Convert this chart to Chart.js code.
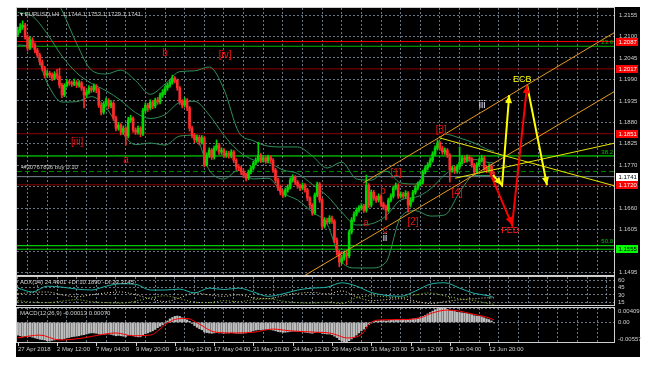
<!DOCTYPE html>
<html><head><meta charset="utf-8">
<script src="https://cdn.jsdelivr.net/npm/chart.js@4.4.1/dist/chart.umd.min.js"></script>
<style>
html,body{margin:0;padding:0;background:#fff;width:651px;height:368px;overflow:hidden}
#win{position:absolute;left:16px;top:7px;width:624px;height:350px;background:#000}
canvas{position:absolute;left:0;top:0}
</style></head><body>
<div id="win"></div>
<canvas id="price" width="651" height="368"></canvas>
<canvas id="adx" width="651" height="368"></canvas>
<canvas id="macd" width="651" height="368"></canvas>
<script>
// ===================== DATA =====================
const SYMBOL_TITLE = "\u25BE EURUSD,H4  1.1744 1.1753 1.1729 1.1741";
const DATE_LABELS = ['27 Apr 2018','2 May 12:00','7 May 04:00','9 May 20:00','14 May 12:00','17 May 04:00','21 May 20:00','24 May 12:00','29 May 04:00','31 May 20:00','5 Jun 12:00','8 Jun 04:00','12 Jun 20:00'];
const DATE_BAR = [0,16,32,48,64,80,96,112,128,144,160,176,192];
const PRICE_TICKS = [1.2155,1.2100,1.2045,1.1990,1.1935,1.1880,1.1825,1.1770,1.1715,1.1660,1.1605,1.1550,1.1495];

const OPEN = [
1.2105,1.2116,1.2124,1.2129,1.2098,1.2070,1.2091,1.2078,1.2065,1.2052,
1.2034,1.2019,1.2001,1.2006,1.2001,1.1993,1.2004,1.1998,1.1975,1.1950,
1.1975,1.1983,1.1981,1.1978,1.1983,1.1975,1.1981,1.1968,1.1950,1.1957,
1.1968,1.1963,1.1973,1.1963,1.1924,1.1906,1.1927,1.1937,1.1922,1.1929,
1.1891,1.1865,1.1873,1.1855,1.1865,1.1845,1.1886,1.1891,1.1860,1.1855,
1.1865,1.1850,1.1911,1.1924,1.1917,1.1932,1.1922,1.1937,1.1932,1.1950,
1.1957,1.1968,1.1975,1.1983,1.1993,1.1988,1.1968,1.1932,1.1924,1.1937,
1.1917,1.1865,1.1847,1.1835,1.1842,1.1829,1.1840,1.1771,1.1796,1.1809,
1.1791,1.1814,1.1822,1.1804,1.1809,1.1796,1.1801,1.1794,1.1804,1.1783,
1.1766,1.1763,1.1753,1.1745,1.1737,1.1753,1.1763,1.1776,1.1783,1.1796,
1.1783,1.1789,1.1781,1.1791,1.1783,1.1758,1.1732,1.1712,1.1701,1.1694,
1.1707,1.1714,1.1732,1.1740,1.1727,1.1717,1.1712,1.1719,1.1707,1.1686,
1.1668,1.1648,1.1694,1.1722,1.1681,1.1614,1.1630,1.1625,1.1635,1.1627,
1.1579,1.1548,1.1522,1.1533,1.1545,1.1538,1.1599,1.1630,1.1645,1.1655,
1.1661,1.1666,1.1655,1.1719,1.1668,1.1701,1.1686,1.1681,1.1691,1.1671,
1.1663,1.1655,1.1681,1.1691,1.1712,1.1719,1.1691,1.1696,1.1691,1.1699,
1.1668,1.1681,1.1701,1.1712,1.1722,1.1727,1.1753,1.1763,1.1771,1.1783,
1.1799,1.1814,1.1827,1.1814,1.1804,1.1809,1.1796,1.1758,1.1763,1.1755,
1.1766,1.1778,1.1789,1.1783,1.1791,1.1786,1.1771,1.1753,1.1771,1.1783,
1.1789,1.1763,1.1758,1.1768,1.1744];
const HIGH = [
1.2124,1.2133,1.2140,1.2134,1.2104,1.2099,1.2097,1.2084,1.2070,1.2057,
1.2040,1.2024,1.2013,1.2011,1.2007,1.2010,1.2016,1.2019,1.1980,1.1979,
1.1990,1.1988,1.1986,1.1991,1.1987,1.1987,1.1985,1.1972,1.1963,1.1974,
1.1973,1.1979,1.1977,1.1968,1.1930,1.1933,1.1943,1.1941,1.1936,1.1933,
1.1896,1.1880,1.1877,1.1871,1.1869,1.1893,1.1898,1.1894,1.1866,1.1871,
1.1869,1.1916,1.1930,1.1929,1.1938,1.1936,1.1942,1.1944,1.1955,1.1964,
1.1973,1.1981,1.1989,1.2001,1.1997,1.1991,1.1972,1.1938,1.1943,1.1941,
1.1921,1.1870,1.1852,1.1848,1.1847,1.1846,1.1844,1.1802,1.1815,1.1813,
1.1819,1.1835,1.1826,1.1815,1.1813,1.1807,1.1806,1.1810,1.1808,1.1787,
1.1772,1.1768,1.1758,1.1750,1.1758,1.1768,1.1781,1.1789,1.1829,1.1800,
1.1795,1.1794,1.1796,1.1795,1.1787,1.1762,1.1737,1.1718,1.1707,1.1712,
1.1720,1.1738,1.1746,1.1744,1.1731,1.1722,1.1725,1.1723,1.1711,1.1690,
1.1672,1.1699,1.1727,1.1726,1.1685,1.1636,1.1635,1.1641,1.1640,1.1631,
1.1584,1.1552,1.1540,1.1551,1.1550,1.1604,1.1636,1.1651,1.1661,1.1667,
1.1672,1.1670,1.1745,1.1723,1.1707,1.1706,1.1692,1.1697,1.1695,1.1676,
1.1668,1.1686,1.1697,1.1717,1.1725,1.1723,1.1702,1.1701,1.1705,1.1703,
1.1687,1.1706,1.1718,1.1728,1.1733,1.1758,1.1769,1.1777,1.1789,1.1805,
1.1820,1.1835,1.1831,1.1819,1.1815,1.1813,1.1800,1.1769,1.1768,1.1772,
1.1817,1.1795,1.1794,1.1797,1.1796,1.1790,1.1775,1.1777,1.1789,1.1796,
1.1793,1.1768,1.1774,1.1772,1.1753];
const LOW = [
1.2100,1.2110,1.2118,1.2093,1.2063,1.2066,1.2072,1.2058,1.2046,1.2027,
1.2012,1.1994,1.1995,1.1995,1.1987,1.1989,1.1992,1.1968,1.1943,1.1946,
1.1970,1.1975,1.1972,1.1974,1.1969,1.1970,1.1962,1.1917,1.1944,1.1952,
1.1957,1.1958,1.1956,1.1918,1.1899,1.1901,1.1921,1.1915,1.1917,1.1885,
1.1858,1.1860,1.1848,1.1849,1.1822,1.1840,1.1880,1.1854,1.1849,1.1850,
1.1843,1.1846,1.1905,1.1908,1.1912,1.1915,1.1917,1.1926,1.1927,1.1944,
1.1951,1.1962,1.1970,1.1978,1.1981,1.1962,1.1926,1.1917,1.1919,1.1910,
1.1858,1.1840,1.1828,1.1829,1.1822,1.1824,1.1766,1.1768,1.1790,1.1785,
1.1786,1.1808,1.1798,1.1798,1.1790,1.1790,1.1788,1.1789,1.1777,1.1759,
1.1756,1.1746,1.1738,1.1730,1.1733,1.1748,1.1758,1.1771,1.1778,1.1777,
1.1778,1.1775,1.1776,1.1777,1.1752,1.1725,1.1705,1.1694,1.1688,1.1689,
1.1701,1.1709,1.1727,1.1721,1.1711,1.1705,1.1707,1.1701,1.1679,1.1661,
1.1642,1.1644,1.1689,1.1675,1.1608,1.1609,1.1619,1.1620,1.1621,1.1572,
1.1540,1.1510,1.1517,1.1527,1.1515,1.1533,1.1594,1.1625,1.1640,1.1650,
1.1655,1.1649,1.1650,1.1662,1.1663,1.1680,1.1675,1.1676,1.1665,1.1657,
1.1630,1.1650,1.1676,1.1686,1.1707,1.1685,1.1686,1.1685,1.1686,1.1650,
1.1663,1.1676,1.1696,1.1707,1.1717,1.1722,1.1748,1.1758,1.1766,1.1778,
1.1794,1.1809,1.1808,1.1798,1.1798,1.1790,1.1727,1.1752,1.1749,1.1750,
1.1761,1.1773,1.1777,1.1778,1.1780,1.1765,1.1746,1.1748,1.1766,1.1778,
1.1757,1.1751,1.1752,1.1742,1.1729];
const CLOSE = [
1.2116,1.2124,1.2129,1.2098,1.2070,1.2091,1.2078,1.2065,1.2052,1.2034,
1.2019,1.2001,1.2006,1.2001,1.1993,1.2004,1.1998,1.1975,1.1950,1.1975,
1.1983,1.1981,1.1978,1.1983,1.1975,1.1981,1.1968,1.1950,1.1957,1.1968,
1.1963,1.1973,1.1963,1.1924,1.1906,1.1927,1.1937,1.1922,1.1929,1.1891,
1.1865,1.1873,1.1855,1.1865,1.1845,1.1886,1.1891,1.1860,1.1855,1.1865,
1.1850,1.1911,1.1924,1.1917,1.1932,1.1922,1.1937,1.1932,1.1950,1.1957,
1.1968,1.1975,1.1983,1.1993,1.1988,1.1968,1.1932,1.1924,1.1937,1.1917,
1.1865,1.1847,1.1835,1.1842,1.1829,1.1840,1.1771,1.1796,1.1809,1.1791,
1.1814,1.1822,1.1804,1.1809,1.1796,1.1801,1.1794,1.1804,1.1783,1.1766,
1.1763,1.1753,1.1745,1.1737,1.1753,1.1763,1.1776,1.1783,1.1796,1.1783,
1.1789,1.1781,1.1791,1.1783,1.1758,1.1732,1.1712,1.1701,1.1694,1.1707,
1.1714,1.1732,1.1740,1.1727,1.1717,1.1712,1.1719,1.1707,1.1686,1.1668,
1.1648,1.1694,1.1722,1.1681,1.1614,1.1630,1.1625,1.1635,1.1627,1.1579,
1.1548,1.1522,1.1533,1.1545,1.1538,1.1599,1.1630,1.1645,1.1655,1.1661,
1.1666,1.1655,1.1719,1.1668,1.1701,1.1686,1.1681,1.1691,1.1671,1.1663,
1.1655,1.1681,1.1691,1.1712,1.1719,1.1691,1.1696,1.1691,1.1699,1.1668,
1.1681,1.1701,1.1712,1.1722,1.1727,1.1753,1.1763,1.1771,1.1783,1.1799,
1.1814,1.1827,1.1814,1.1804,1.1809,1.1796,1.1758,1.1763,1.1755,1.1766,
1.1778,1.1789,1.1783,1.1791,1.1786,1.1771,1.1753,1.1771,1.1783,1.1789,
1.1763,1.1758,1.1768,1.1748,1.1741];

// Bollinger bands, read at sampled bars
const BB_BAR = [0,6,12,18,24,30,36,42,48,54,60,66,72,78,84,90,96,102,108,114,120,126,132,138,144,150,156,162,168,174,180,186,192,194];
const BB_UPPER = [1.2244,1.2231,1.2234,1.2167,1.2082,1.2014,1.2004,1.2014,1.1987,1.1952,1.1978,1.2010,1.2012,1.2022,1.1965,1.1855,1.1833,1.1819,1.1817,1.1817,1.1794,1.1763,1.1778,1.1735,1.1732,1.1755,1.1725,1.1722,1.1778,1.1850,1.1840,1.1827,1.1809,1.1806];
const BB_MIDDLE = [1.2162,1.2152,1.2107,1.2050,1.2007,1.1980,1.1961,1.1936,1.1905,1.1890,1.1900,1.1931,1.1934,1.1899,1.1847,1.1806,1.1784,1.1778,1.1758,1.1749,1.1721,1.1692,1.1650,1.1617,1.1620,1.1640,1.1681,1.1688,1.1709,1.1746,1.1771,1.1785,1.1777,1.1776];
const BB_LOWER = [1.2078,1.2073,1.1981,1.1932,1.1933,1.1946,1.1918,1.1858,1.1823,1.1827,1.1822,1.1845,1.1847,1.1758,1.1735,1.1758,1.1735,1.1737,1.1699,1.1681,1.1650,1.1620,1.1522,1.1507,1.1507,1.1522,1.1637,1.1654,1.1640,1.1643,1.1701,1.1744,1.1744,1.1742];

// horizontal levels
const H_LEVELS = [1.2087,1.2075,1.2017,1.1851,1.1794,1.1754,1.1741,1.1720,1.1564,1.1555];
const FIB_TEXT = ['23.6','38.2','50.0'];
const FIB_LEVEL = [1.2075,1.1794,1.1564];
const RED_BOX_LEVELS = [1.2087,1.2017,1.1851,1.1720];
const BID = 1.1741;
const GREEN_BOX_LEVEL = 1.1555;
const ORDER_TEXT = '#30767836 buy 0.10';

// trend / channel lines (bar index, price)
const CHAN_UP_BAR = [140.8,243.3], CHAN_UP_PRICE = [1.1725,1.2111];
const CHAN_LO_BAR = [115.1,243.3], CHAN_LO_PRICE = [1.1481,1.1960];
const TRI_DN_BAR = [172.0,243.3], TRI_DN_PRICE = [1.1840,1.1717];
const TRI_UP_BAR = [178.2,243.3], TRI_UP_PRICE = [1.1737,1.1827];
// projected arrows
const ARROW_Y1_BAR = [193.6,197.3,200.2], ARROW_Y1_PRICE = [1.1745,1.1719,1.1950];
const ARROW_R_BAR  = [192.4,201.4,207.5], ARROW_R_PRICE  = [1.1750,1.1617,1.1975];
const ARROW_Y2_BAR = [207.5,215.6],       ARROW_Y2_PRICE = [1.1975,1.1719];

// wave labels
const WAVE_TEXT  = ['[iii]','a','b','[iv]','[3]','[1]','[2]','[4]','b','a','c'];
const WAVE_BAR   = [24.2,44.1,60.0,84.5,172.5,154.1,161.0,179.0,148.8,141.9,149.6];
const WAVE_PRICE = [1.1829,1.1783,1.2057,1.2052,1.1860,1.1750,1.1625,1.1699,1.1704,1.1622,1.1604];
const WHITE_TEXT = ['ii','iii'];
const WHITE_BAR = [149.6,189.2];
const WHITE_PRICE = [1.1584,1.1924];
const NEWS_TEXT = ['ECB','FED'];
const NEWS_BAR = [205.5,200.6];
const NEWS_PRICE = [1.1991,1.1604];

// ADX(14)
const ADX_TITLE = 'ADX(14) 24.4901 +DI:10.1890 -DI:23.3145';
const ADX_TICKS = [60,45,30,15];
const ADX_BAR = [0,6,12,18,24,30,36,42,48,54,60,66,72,78,84,90,96,102,108,114,120,126,132,138,144,150,156,162,168,174,180,186,192,194];
const ADX_MAIN = [44,36,48,46,42,40,48,53,52,40,40,42,34,44,41,44,36,27,32,40,44,46,55,48,35,29,27,38,52,55,44,33,28,24.5];
const ADX_PDI  = [18,15,14,17,20,16,14,13,17,24,28,22,15,14,18,16,20,22,17,14,13,15,12,24,28,26,24,30,34,28,22,18,12,10.2];
const ADX_MDI  = [32,35,36,30,26,30,34,36,30,22,16,24,34,30,27,30,24,22,28,33,35,32,38,26,18,20,22,17,12,16,20,22,24,23.3];

// MACD(12,26,9)
const MACD_TITLE = 'MACD(12,26,9) -0.00013 0.00070';
const MACD_MAX = 0.00409, MACD_MIN = -0.00557;
const MACD_MAIN = [
-0.0036,-0.0038,-0.0040,-0.0039,-0.0041,-0.0040,-0.0042,-0.0044,
-0.0046,-0.0048,-0.0049,-0.0050,-0.0052,-0.0053,-0.0051,-0.0050,-0.0049,
-0.0047,-0.0048,-0.0046,-0.0044,-0.0043,-0.0041,-0.0040,-0.0039,
-0.0038,-0.0036,-0.0035,-0.0033,-0.0031,-0.0030,-0.0030,-0.0031,
-0.0033,-0.0035,-0.0034,-0.0033,-0.0033,-0.0034,-0.0036,-0.0038,
-0.0037,-0.0038,-0.0039,-0.0040,-0.0036,-0.0035,-0.0038,-0.0040,
-0.0041,-0.0041,-0.0036,-0.0032,-0.0030,-0.0027,-0.0024,-0.0020,
-0.0015,-0.0011,-0.0007,-0.0002,0.0004,0.0010,0.0014,0.0017,
0.0018,0.0017,0.0013,0.0010,0.0007,0.0003,-0.0003,-0.0009,
-0.0014,-0.0018,-0.0021,-0.0027,-0.0029,-0.0030,-0.0031,-0.0030,
-0.0029,-0.0030,-0.0030,-0.0031,-0.0030,-0.0030,-0.0029,-0.0030,
-0.0031,-0.0031,-0.0031,-0.0030,-0.0030,-0.0028,-0.0026,-0.0024,
-0.0022,-0.0021,-0.0021,-0.0020,-0.0020,-0.0020,-0.0021,-0.0022,
-0.0024,-0.0026,-0.0027,-0.0028,-0.0028,-0.0027,-0.0026,-0.0025,
-0.0025,-0.0026,-0.0026,-0.0027,-0.0028,-0.0029,-0.0030,-0.0031,
-0.0029,-0.0027,-0.0028,-0.0031,-0.0032,-0.0033,-0.0033,-0.0035,
-0.0039,-0.0043,-0.0049,-0.0053,-0.0055,-0.00557,-0.0052,-0.0047,
-0.0042,-0.0036,-0.0030,-0.0024,-0.0019,-0.0012,-0.0006,-0.0002,
0.0002,0.0004,0.0004,0.0005,0.0005,0.0004,0.0005,0.0006,
0.0007,0.0008,0.0008,0.0008,0.0009,0.0009,0.0008,0.0009,
0.0010,0.0011,0.0012,0.0014,0.0017,0.0020,0.0024,0.0028,
0.0032,0.0036,0.0039,0.00409,0.0041,0.0040,0.0037,0.0034,
0.0033,0.0031,0.0029,0.0028,0.0027,0.0026,0.0025,0.0024,
0.0022,0.0019,0.0018,0.0017,0.0016,0.0013,0.0010,0.0008,
0.0004,-0.00013];
const SIG_BAR = [0,9,17,27,33,40,47,54,61,65,69,74,80,88,96,104,111,122,127,130,134,138,141,143,148,157,164,169,175,180,185,191,194];
const SIG_VAL = [-0.0044,-0.0036,-0.0050,-0.0044,-0.0036,-0.0030,-0.0038,-0.0036,-0.0002,0.0010,0.0011,-0.0005,-0.0027,-0.0030,-0.0028,-0.0019,-0.0024,-0.0028,-0.0030,-0.0036,-0.0044,-0.0041,-0.0027,-0.0005,0.0007,0.0008,0.0013,0.0027,0.0035,0.0032,0.0024,0.0015,0.0007];

// ===================== STYLE / LAYOUT =====================
const X_MIN = -0.3, X_MAX = 243.3;
const GRID_COL = 'rgba(125,138,155,0.85)';
const FRAME_COL = '#cfcfcf';
const TXT_COL = '#cfcfcf';
const AXIS_FONT = '6px "Liberation Sans", Arial, sans-serif';
const BULL = '#00d800', BEAR = '#ff2a2a';
const H_COLORS = ['#ff0000','#00b400','#8b0000','#8b0000','#00ff00','#008800','#7a8696','#8b0000','#00ff00','#00d000'];
const H_DASH = [[],[],[],[],[],[5,3],[],[],[],[]];
const BAND_COL = '#2f8f5a';

function gridX(){ const t=[]; for(let v=0; v<=240; v+=8) t.push(v); return t; }
function xScaleOpts(){
  return {type:'linear', min:X_MIN, max:X_MAX, offset:false,
    afterFit(s){ s.height = 0; },
    afterBuildTicks(s){ s.ticks = gridX().map(v=>({value:v})); },
    ticks:{display:false}, grid:{color:GRID_COL, drawTicks:false, lineWidth:1},
    border:{display:false, dash:[2,2]}};
}
function yScaleOpts(min,max,ticks){
  return {type:'linear', min, max, position:'right',
    afterFit(s){ s.width = 0; },
    afterBuildTicks(s){ s.ticks = ticks.map(v=>({value:v})); },
    ticks:{display:false}, grid:{color:GRID_COL, drawTicks:false, lineWidth:1},
    border:{display:false, dash:[2,2]}};
}
function pts(xs, ys){ return xs.map((x,i)=>({x, y:ys[i]})); }
function lineDs(data, color, width, order, extra){
  return Object.assign({type:'line', data, borderColor:color, borderWidth:width, pointRadius:0, fill:false, tension:0, order}, extra||{});
}
const common = {responsive:false, animation:false, events:[], devicePixelRatio:1,
  plugins:{legend:{display:false}, tooltip:{enabled:false}}};

// ===================== PRICE CHART =====================
const priceDatasets = [];
priceDatasets.push(lineDs(pts(ARROW_Y1_BAR, ARROW_Y1_PRICE), '#ffff00', 2, 0));
priceDatasets.push(lineDs(pts(ARROW_R_BAR, ARROW_R_PRICE), '#ff0000', 2, 0));
priceDatasets.push(lineDs(pts(ARROW_Y2_BAR, ARROW_Y2_PRICE), '#ffff00', 2, 0));
priceDatasets.push(lineDs(pts(CHAN_UP_BAR, CHAN_UP_PRICE), '#e89a1c', 1, 1));
priceDatasets.push(lineDs(pts(CHAN_LO_BAR, CHAN_LO_PRICE), '#e89a1c', 1, 1));
priceDatasets.push(lineDs(pts(TRI_DN_BAR, TRI_DN_PRICE), '#e6e600', 1, 1));
priceDatasets.push(lineDs(pts(TRI_UP_BAR, TRI_UP_PRICE), '#e6e600', 1, 1));
const candleColors = CLOSE.map((c,i)=> c>=OPEN[i] ? BULL : BEAR);
priceDatasets.push({type:'bar', data: CLOSE.map((c,i)=>({x:i, y:[OPEN[i], c]})), backgroundColor:candleColors,
  borderWidth:0, barThickness:2, minBarLength:1, grouped:false, order:2});
priceDatasets.push({type:'bar', data: CLOSE.map((c,i)=>({x:i, y:[LOW[i], HIGH[i]]})), backgroundColor:candleColors,
  borderWidth:0, barThickness:1, grouped:false, order:3});
[BB_UPPER, BB_MIDDLE, BB_LOWER].forEach(b=>priceDatasets.push(lineDs(pts(BB_BAR, b), BAND_COL, 1, 4, {cubicInterpolationMode:'monotone'})));
H_LEVELS.forEach((v,k)=>priceDatasets.push(lineDs(pts([X_MIN,X_MAX],[v,v]), H_COLORS[k], 1, 5, {borderDash:H_DASH[k]})));

function arrowHead(ctx, x0,y0,x1,y1,color){
  const a = Math.atan2(y1-y0, x1-x0), L=8, W=3.5;
  ctx.fillStyle = color; ctx.beginPath();
  ctx.moveTo(x1,y1);
  ctx.lineTo(x1 - L*Math.cos(a) + W*Math.sin(a), y1 - L*Math.sin(a) - W*Math.cos(a));
  ctx.lineTo(x1 - L*Math.cos(a) - W*Math.sin(a), y1 - L*Math.sin(a) + W*Math.cos(a));
  ctx.closePath(); ctx.fill();
}
const priceDeco = {
  id:'priceDeco',
  afterDatasetsDraw(chart){
    const {ctx, scales:{x,y}} = chart;
    const P = (n,p)=>[x.getPixelForValue(n), y.getPixelForValue(p)];
    ctx.save();
    const heads = [[ARROW_Y1_BAR,ARROW_Y1_PRICE,'#ffff00',[1,2]],[ARROW_R_BAR,ARROW_R_PRICE,'#ff0000',[1,2]],[ARROW_Y2_BAR,ARROW_Y2_PRICE,'#ffff00',[1]]];
    heads.forEach(([bx,py,col,idx])=>idx.forEach(j=>{
      const a=P(bx[j-1],py[j-1]), b=P(bx[j],py[j]); arrowHead(ctx,a[0],a[1],b[0],b[1],col);
    }));
    ctx.restore();
  },
  afterDraw(chart){
    const {ctx, scales:{x,y}} = chart;
    ctx.save();
    ctx.strokeStyle = FRAME_COL; ctx.lineWidth = 1;
    ctx.strokeRect(16.5, 7.5, 598, 268);
    ctx.font = AXIS_FONT; ctx.textBaseline='middle'; ctx.textAlign='left';
    ctx.fillStyle = TXT_COL;
    ctx.fillText(SYMBOL_TITLE, 20, 14);
    PRICE_TICKS.forEach(v=>ctx.fillText(v.toFixed(4), 619, y.getPixelForValue(v)));
    const box=(v,fill,tc)=>{ const py=Math.round(y.getPixelForValue(v)); ctx.fillStyle=fill; ctx.fillRect(616,py-4,22,8); ctx.fillStyle=tc; ctx.fillText(v.toFixed(4),618.5,py+0.5); };
    RED_BOX_LEVELS.forEach(v=>box(v,'#ff0000','#ffffff'));
    box(BID,'#ffffff','#000000');
    box(GREEN_BOX_LEVEL,'#00ff00','#000000');
    ctx.textAlign='right'; ctx.textBaseline='bottom'; ctx.fillStyle='#00c800';
    FIB_LEVEL.forEach((v,k)=>ctx.fillText(FIB_TEXT[k], 613, y.getPixelForValue(v)-1));
    ctx.textAlign='left'; ctx.textBaseline='middle'; ctx.fillStyle='#c8c8c8';
    ctx.fillText('\u25AA'+ORDER_TEXT, 21, y.getPixelForValue(1.1754)-4);
    ctx.textAlign='center';
    ctx.font='10px "Liberation Sans", Arial, sans-serif'; ctx.fillStyle='#ee1111';
    WAVE_TEXT.forEach((t,k)=>ctx.fillText(t, x.getPixelForValue(WAVE_BAR[k]), y.getPixelForValue(WAVE_PRICE[k])));
    ctx.fillStyle='#e8e8ff';
    WHITE_TEXT.forEach((t,k)=>ctx.fillText(t, x.getPixelForValue(WHITE_BAR[k]), y.getPixelForValue(WHITE_PRICE[k])));
    ctx.font='9px "Liberation Sans", Arial, sans-serif';
    ctx.fillStyle='#ffff00'; ctx.fillText(NEWS_TEXT[0], x.getPixelForValue(NEWS_BAR[0]), y.getPixelForValue(NEWS_PRICE[0]));
    ctx.fillStyle='#ff2020'; ctx.fillText(NEWS_TEXT[1], x.getPixelForValue(NEWS_BAR[1]), y.getPixelForValue(NEWS_PRICE[1]));
    ctx.restore();
  }
};
new Chart(document.getElementById('price'), {
  type:'bar',
  data:{datasets:priceDatasets},
  options:Object.assign({}, common, {
    layout:{autoPadding:false, padding:{left:17, top:8, right:36, bottom:93}},
    scales:{x:xScaleOpts(), y:yScaleOpts(1.1489, 1.2173, PRICE_TICKS)}
  }),
  plugins:[priceDeco]
});

// ===================== ADX CHART =====================
const adxDeco = {
  id:'adxDeco',
  afterDraw(chart){
    const {ctx, scales:{y}} = chart;
    ctx.save();
    ctx.strokeStyle = FRAME_COL; ctx.lineWidth=1; ctx.strokeRect(16.5, 276.5, 598, 29);
    ctx.font = AXIS_FONT; ctx.fillStyle=TXT_COL; ctx.textBaseline='middle'; ctx.textAlign='left';
    ctx.fillText(ADX_TITLE, 20, 282);
    ADX_TICKS.forEach(v=>ctx.fillText(String(v), 618, y.getPixelForValue(v)));
    ctx.restore();
  }
};
new Chart(document.getElementById('adx'), {
  type:'line',
  data:{datasets:[
    lineDs(pts(ADX_BAR, ADX_MAIN), '#20b2aa', 1, 0, {cubicInterpolationMode:'monotone'}),
    lineDs(pts(ADX_BAR, ADX_PDI), '#9acd32', 1, 1, {borderDash:[1,2], cubicInterpolationMode:'monotone'}),
    lineDs(pts(ADX_BAR, ADX_MDI), '#f5deb3', 1, 2, {borderDash:[1,2], cubicInterpolationMode:'monotone'})
  ]},
  options:Object.assign({}, common, {
    layout:{autoPadding:false, padding:{left:17, top:277, right:36, bottom:63}},
    scales:{x:xScaleOpts(), y:yScaleOpts(9, 67, ADX_TICKS)}
  }),
  plugins:[adxDeco]
});

// ===================== MACD CHART =====================
const macdDeco = {
  id:'macdDeco',
  afterDraw(chart){
    const {ctx, scales:{x,y}} = chart;
    ctx.save();
    ctx.strokeStyle = FRAME_COL; ctx.lineWidth=1; ctx.strokeRect(16.5, 307.5, 598, 35);
    ctx.font = AXIS_FONT; ctx.fillStyle=TXT_COL; ctx.textBaseline='middle'; ctx.textAlign='left';
    ctx.fillText(MACD_TITLE, 20, 313);
    ctx.fillText(MACD_MAX.toFixed(5), 618, 311);
    ctx.fillText('0.00', 618, y.getPixelForValue(0));
    ctx.fillText(MACD_MIN.toFixed(5), 618, 339);
    DATE_LABELS.forEach((t,k)=>{
      const px = Math.round(x.getPixelForValue(DATE_BAR[k]));
      ctx.fillStyle=TXT_COL; ctx.fillText(t, px, 349.5);
      ctx.fillRect(px, 343, 1, 3);
    });
    ctx.restore();
  }
};
new Chart(document.getElementById('macd'), {
  type:'bar',
  data:{datasets:[
    lineDs(pts(SIG_BAR, SIG_VAL), '#ff0000', 1, 0, {cubicInterpolationMode:'monotone'}),
    {type:'bar', data: MACD_MAIN.map((v,i)=>({x:i, y:v})), backgroundColor:'#bdbdbd', borderWidth:0, barThickness:1.6, grouped:false, order:1}
  ]},
  options:Object.assign({}, common, {
    layout:{autoPadding:false, padding:{left:17, top:308, right:36, bottom:26}},
    scales:{x:xScaleOpts(), y:yScaleOpts(MACD_MIN, MACD_MAX, [MACD_MAX, 0, MACD_MIN])}
  }),
  plugins:[macdDeco]
});
</script>
</body></html>
